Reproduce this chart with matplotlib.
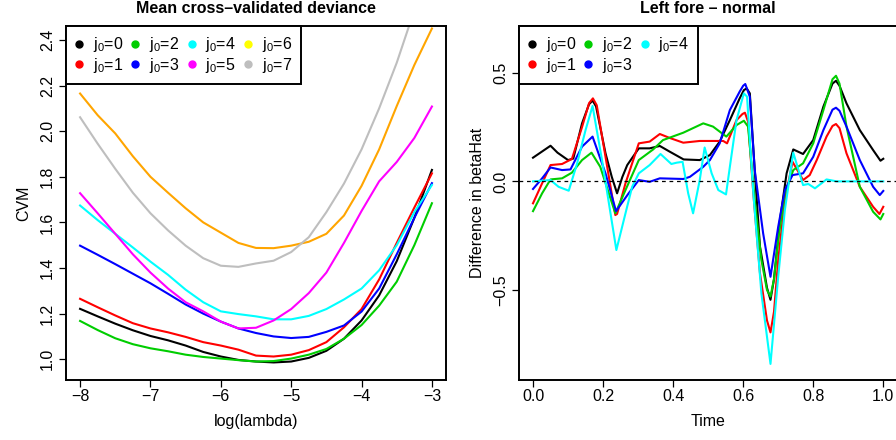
import matplotlib
matplotlib.use("Agg")
import matplotlib.pyplot as plt
from matplotlib.lines import Line2D

plt.rcParams["font.family"] = ["Liberation Sans", "DejaVu Sans"]
plt.rcParams["font.size"] = 11.5
plt.rcParams["mathtext.default"] = "regular"

# ---- left panel: mean cross-validated deviance vs log(lambda)
LOG_LAMBDA = [-8, -7.75, -7.5, -7.25, -7, -6.75, -6.5, -6.25, -6, -5.75, -5.5,
              -5.25, -5, -4.75, -4.5, -4.25, -4, -3.75, -3.5, -3.25, -3]
CVM_J0 = [1.221, 1.188, 1.156, 1.127, 1.102, 1.083, 1.060, 1.032, 1.012, 0.997, 0.990,
          0.986, 0.990, 1.006, 1.037, 1.090, 1.170, 1.280, 1.430, 1.620, 1.830]
CVM_J1 = [1.265, 1.228, 1.192, 1.158, 1.135, 1.118, 1.098, 1.075, 1.060, 1.042, 1.016,
          1.012, 1.020, 1.040, 1.075, 1.140, 1.220, 1.350, 1.510, 1.665, 1.815]
CVM_J2 = [1.168, 1.128, 1.092, 1.066, 1.048, 1.035, 1.020, 1.010, 1.003, 0.996, 0.990,
          0.992, 1.003, 1.020, 1.045, 1.090, 1.150, 1.235, 1.340, 1.500, 1.684]
CVM_J3 = [1.498, 1.458, 1.417, 1.375, 1.333, 1.287, 1.240, 1.200, 1.165, 1.135, 1.115,
          1.100, 1.093, 1.098, 1.120, 1.148, 1.209, 1.310, 1.460, 1.620, 1.772]
CVM_J4 = [1.674, 1.610, 1.550, 1.490, 1.428, 1.370, 1.305, 1.250, 1.210, 1.198, 1.188,
          1.175, 1.175, 1.190, 1.220, 1.262, 1.310, 1.390, 1.500, 1.645, 1.764]
CVM_J5 = [1.728, 1.640, 1.550, 1.460, 1.380, 1.310, 1.250, 1.210, 1.165, 1.135, 1.138,
          1.170, 1.220, 1.290, 1.380, 1.510, 1.650, 1.780, 1.865, 1.970, 2.108]
CVM_J6 = [2.165, 2.070, 1.990, 1.890, 1.800, 1.730, 1.662, 1.600, 1.555, 1.510, 1.488,
          1.487, 1.498, 1.515, 1.550, 1.630, 1.760, 1.920, 2.110, 2.290, 2.450]
CVM_J7 = [2.061, 1.945, 1.835, 1.730, 1.640, 1.565, 1.498, 1.443, 1.410, 1.405, 1.420,
          1.432, 1.470, 1.535, 1.645, 1.770, 1.920, 2.100, 2.300, 2.530, 2.780]
CVM = [CVM_J0, CVM_J1, CVM_J2, CVM_J3, CVM_J4, CVM_J5, CVM_J6, CVM_J7]
LINE_COLS_L = ["#000000", "#FF0000", "#00CD00", "#0000FF", "#00FFFF", "#FF00FF",
               "#FFA500", "#BEBEBE"]
# the legend of the original shows yellow for j0=6 while the curve is orange
LEG_COLS_L = ["#000000", "#FF0000", "#00CD00", "#0000FF", "#00FFFF", "#FF00FF",
              "#FFFF00", "#BEBEBE"]

# ---- right panel: difference in betaHat over time
T_J0 = [0.0, 0.05, 0.07, 0.10, 0.115, 0.14, 0.16, 0.17, 0.18, 0.207, 0.225, 0.24,
        0.255, 0.269, 0.302, 0.333, 0.362, 0.39, 0.43, 0.476, 0.505, 0.533, 0.562,
        0.59, 0.602, 0.61, 0.619, 0.633, 0.648, 0.668, 0.678, 0.688, 0.705, 0.724,
        0.743, 0.771, 0.80, 0.829, 0.855, 0.865, 0.875, 0.895, 0.933, 0.971, 0.992, 1.0]
B_J0 = [0.109, 0.164, 0.132, 0.098, 0.105, 0.267, 0.355, 0.372, 0.345, 0.129, 0.02,
        -0.055, 0.02, 0.075, 0.152, 0.152, 0.163, 0.137, 0.101, 0.098, 0.121, 0.183,
        0.282, 0.382, 0.42, 0.428, 0.405, 0.052, -0.30, -0.49, -0.545, -0.45, -0.178,
        0.037, 0.147, 0.126, 0.19, 0.344, 0.45, 0.463, 0.44, 0.359, 0.236, 0.144,
        0.095, 0.104]
T_J1 = [0.0, 0.026, 0.05, 0.083, 0.111, 0.14, 0.16, 0.171, 0.182, 0.207, 0.235, 0.24,
        0.264, 0.302, 0.333, 0.362, 0.39, 0.429, 0.476, 0.543, 0.554, 0.581, 0.598,
        0.605, 0.614, 0.629, 0.648, 0.668, 0.678, 0.688, 0.70, 0.719, 0.741, 0.771,
        0.79, 0.81, 0.838, 0.855, 0.865, 0.875, 0.895, 0.933, 0.971, 0.989, 1.0]
B_J1 = [-0.101, -0.009, 0.075, 0.08, 0.103, 0.25, 0.36, 0.382, 0.35, 0.113, -0.155,
        -0.15, -0.009, 0.175, 0.183, 0.218, 0.20, 0.178, 0.186, 0.186, 0.175, 0.282,
        0.31, 0.316, 0.275, -0.055, -0.423, -0.64, -0.695, -0.6, -0.362, -0.086,
        0.09, 0.006, 0.029, 0.098, 0.206, 0.255, 0.264, 0.245, 0.129, -0.025, -0.117,
        -0.15, -0.117]
T_J2 = [0.0, 0.026, 0.05, 0.083, 0.111, 0.14, 0.167, 0.192, 0.235, 0.264, 0.302, 0.343,
        0.371, 0.429, 0.486, 0.514, 0.552, 0.581, 0.602, 0.614, 0.633, 0.652, 0.668,
        0.678, 0.688, 0.70, 0.719, 0.743, 0.771, 0.80, 0.829, 0.855, 0.865, 0.875,
        0.895, 0.933, 0.971, 0.992, 1.0]
B_J2 = [-0.137, -0.055, 0.009, 0.014, 0.04, 0.098, 0.132, 0.067, -0.147, -0.04, 0.098,
        0.147, 0.19, 0.224, 0.267, 0.252, 0.206, 0.259, 0.279, 0.252, -0.086, -0.362,
        -0.5, -0.53, -0.45, -0.27, -0.055, 0.052, 0.083, 0.175, 0.328, 0.47, 0.486,
        0.45, 0.252, -0.025, -0.14, -0.175, -0.15]
T_J3 = [0.0, 0.026, 0.05, 0.083, 0.107, 0.14, 0.17, 0.207, 0.237, 0.273, 0.302, 0.333,
        0.362, 0.429, 0.448, 0.486, 0.505, 0.533, 0.562, 0.59, 0.6, 0.606, 0.619,
        0.633, 0.657, 0.678, 0.70, 0.719, 0.741, 0.771, 0.80, 0.829, 0.855, 0.865,
        0.875, 0.895, 0.933, 0.971, 0.99, 1.0]
B_J3 = [-0.035, 0.014, 0.064, 0.052, 0.055, 0.16, 0.206, 0.037, -0.137, -0.055, 0.006,
        -0.002, 0.014, 0.011, 0.021, 0.067, 0.098, 0.175, 0.328, 0.413, 0.44, 0.448,
        0.39, 0.052, -0.239, -0.439, -0.209, -0.04, 0.029, 0.037, 0.113, 0.236, 0.33,
        0.339, 0.325, 0.252, 0.098, -0.025, -0.063, -0.044]
T_J4 = [0.0, 0.05, 0.073, 0.102, 0.126, 0.15, 0.17, 0.197, 0.238, 0.264, 0.283, 0.302,
        0.333, 0.364, 0.395, 0.41, 0.427, 0.443, 0.457, 0.476, 0.49, 0.51, 0.529,
        0.551, 0.562, 0.581, 0.602, 0.611, 0.629, 0.652, 0.678, 0.70, 0.719, 0.743,
        0.771, 0.786, 0.805, 0.838, 0.867, 1.0]
B_J4 = [0.0, 0.006, -0.025, -0.043, 0.083, 0.236, 0.347, 0.098, -0.316, -0.147, -0.025,
        0.037, 0.075, 0.126, 0.08, 0.086, 0.09, -0.055, -0.147, 0.006, 0.156, 0.037,
        -0.04, -0.06, 0.067, 0.282, 0.405, 0.39, -0.055, -0.515, -0.84, -0.439,
        -0.132, 0.132, -0.017, -0.012, -0.032, 0.009, 0.0, 0.0]
TIMES = [T_J0, T_J1, T_J2, T_J3, T_J4]
BETAS = [B_J0, B_J1, B_J2, B_J3, B_J4]
COLS_R = ["#000000", "#FF0000", "#00CD00", "#0000FF", "#00FFFF"]


def style_axes(ax):
    for sp in ax.spines.values():
        sp.set_linewidth(1.4)
        sp.set_color("black")
    ax.tick_params(direction="out", length=5, width=0.9, pad=1.5)
    ax.tick_params(axis="y", labelrotation=90, pad=3)
    for lab in ax.get_yticklabels():
        lab.set_va("center")


def add_legend(ax, colors, ncol):
    handles = [Line2D([], [], marker="o", linestyle="", color=c, markersize=5)
               for c in colors]
    labels = [f"j$_0$={i}" for i in range(len(colors))]
    leg = ax.legend(handles, labels, loc="upper left", ncol=ncol, borderaxespad=0,
                    fancybox=False, framealpha=1, edgecolor="black",
                    handlelength=0.5, handletextpad=0.62, columnspacing=0.5,
                    labelspacing=0.1, borderpad=0.58, fontsize=11.5)
    leg.get_frame().set_linewidth(1.4)
    return leg


fig = plt.figure(figsize=(8.96, 4.4), dpi=100)
axL = fig.add_axes([0.07366, 0.13636, 0.42411, 0.80455])
axR = fig.add_axes([0.57924, 0.13636, 0.42220, 0.80455])

# left
for vals, col in zip(CVM, LINE_COLS_L):
    axL.plot(LOG_LAMBDA, vals, color=col, linewidth=1.5)
axL.set_xlim(-8.2, -2.8)
axL.set_ylim(0.909, 2.461)
axL.set_xticks([-8, -7, -6, -5, -4, -3])
axL.set_yticks([1.0, 1.2, 1.4, 1.6, 1.8, 2.0, 2.2, 2.4])
axL.set_xlabel("log(lambda)", labelpad=7)
axL.set_ylabel("CVM", labelpad=6)
axL.set_title("Mean cross\u2013validated deviance", fontweight="bold",
              fontsize=11.5, pad=9.5)
style_axes(axL)
add_legend(axL, LEG_COLS_L, 4)

# right
for t, b, col in zip(TIMES, BETAS, COLS_R):
    axR.plot(t, b, color=col, linewidth=1.5)
axR.axhline(0, color="black", linestyle=(0, (3, 3)), linewidth=0.9)
axR.set_xlim(-0.04, 1.04)
axR.set_ylim(-0.914, 0.715)
axR.set_xticks([0.0, 0.2, 0.4, 0.6, 0.8, 1.0])
axR.set_yticks([-0.5, 0.0, 0.5])
axR.set_xlabel("Time", labelpad=7)
axR.set_ylabel("Difference in betaHat", labelpad=6)
axR.set_title("Left fore \u2013 normal", fontweight="bold", fontsize=11.5, pad=9.5)
style_axes(axR)
add_legend(axR, COLS_R, 3)

fig.savefig("out.png", dpi=100)
